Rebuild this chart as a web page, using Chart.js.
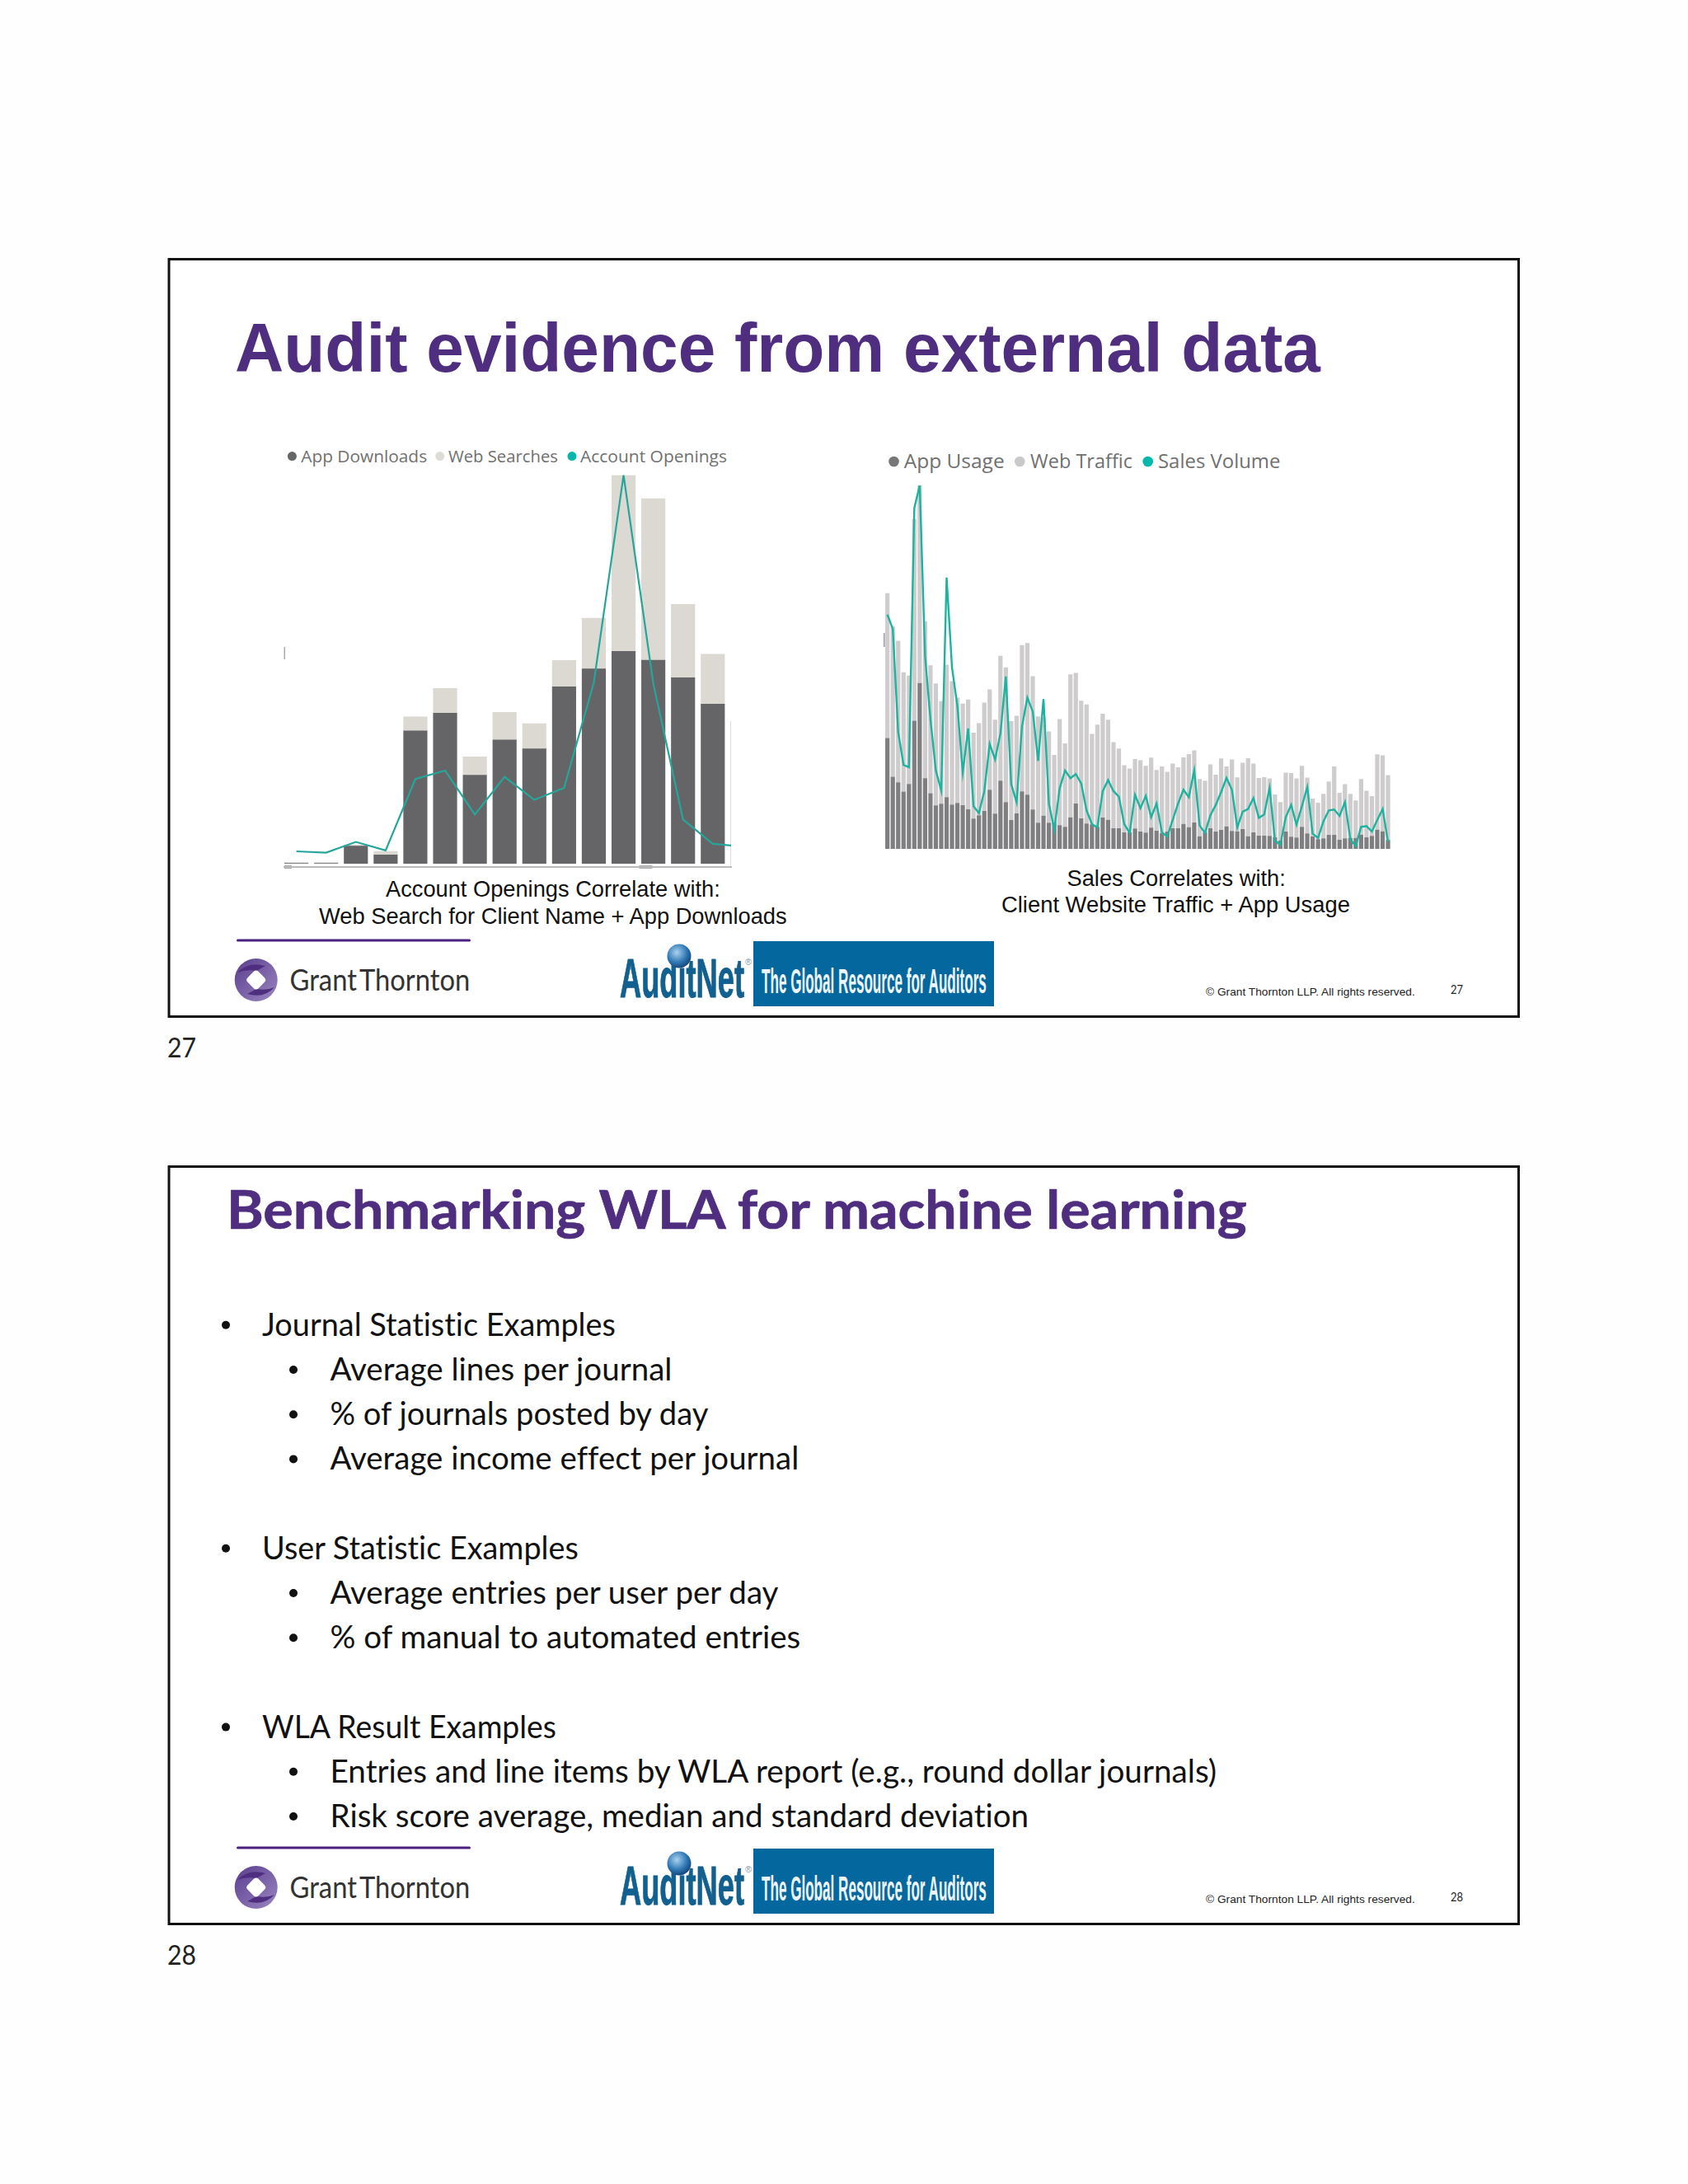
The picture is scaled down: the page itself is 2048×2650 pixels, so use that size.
<!DOCTYPE html>
<html>
<head>
<meta charset="utf-8">
<title>Audit evidence from external data</title>
<script src="https://cdn.jsdelivr.net/npm/chart.js@4/dist/chart.umd.js"></script>
<style>
  html, body { margin: 0; padding: 0; background: #fefefe; }
  #page { position: relative; width: 2048px; height: 2650px; overflow: hidden; }
  #page svg { position: absolute; left: 0; top: 0; }
  #page text { font-variant-ligatures: none; }
  .chartBox { position: absolute; }
</style>
</head>
<body>
<div id="page">
  <svg id="deck" width="2048" height="2650" xmlns="http://www.w3.org/2000/svg">
    <defs>
      <linearGradient id="gtRing" x1="0" y1="0" x2="1" y2="1">
        <stop offset="0" stop-color="#5a3d8f"/>
        <stop offset="1" stop-color="#9b86c0"/>
      </linearGradient>
      <radialGradient id="globe" cx="0.4" cy="0.35" r="0.7">
        <stop offset="0" stop-color="#a9d2ee"/>
        <stop offset="0.6" stop-color="#2f78b5"/>
        <stop offset="1" stop-color="#123f70"/>
      </radialGradient>
    </defs>
  </svg>
  <div class="chartBox" style="left:335px;top:570px;width:560px;height:490px"><canvas id="leftChart"></canvas></div>
  <div class="chartBox" style="left:1060px;top:580px;width:640px;height:460px"><canvas id="rightChart"></canvas></div>
</div>

<script>
// left chart, slide 27
const leftSeriesNames = ["App Downloads", "Web Searches", "Account Openings"];
const appDownloads = [0, 0, 53, 26, 407, 461, 271, 379, 352, 542, 597, 651, 624, 570, 489];
const webSearches = [3, 3, 4, 11, 43, 76, 56, 85, 77, 81, 156, 541, 496, 225, 153];
// one more point than bars, the chart cuts it off on the right
const accountOpenings = [37, 33, 66, 40, 259, 285, 150, 266, 195, 232, 555, 1192, 552, 135, 60, 52];

// right chart, slide 27
const rightSeriesNames = ["App Usage", "Web Traffic", "Sales Volume"];
const appUsage = [403, 262, 242, 208, 236, 466, 603, 257, 202, 158, 164, 188, 161, 167, 159, 144, 110, 122, 138, 215, 128, 248, 170, 105, 129, 209, 197, 143, 95, 121, 95, 95, 86, 80, 115, 165, 111, 92, 89, 80, 114, 106, 75, 75, 60, 60, 74, 63, 59, 77, 66, 57, 63, 75, 75, 91, 79, 96, 46, 60, 75, 63, 69, 82, 65, 64, 72, 46, 60, 48, 48, 47, 42, 30, 63, 44, 41, 80, 56, 45, 35, 38, 51, 51, 33, 38, 40, 40, 52, 42, 47, 70, 64, 32];
const webTraffic = [527, 548, 515, 434, 394, 734, 719, 571, 466, 444, 373, 482, 449, 383, 369, 399, 313, 335, 394, 365, 342, 454, 490, 360, 355, 532, 552, 485, 387, 359, 332, 247, 386, 304, 520, 475, 428, 433, 329, 372, 378, 364, 313, 290, 244, 232, 253, 259, 243, 255, 221, 243, 217, 235, 222, 242, 266, 262, 208, 188, 232, 207, 260, 218, 260, 196, 241, 284, 250, 210, 213, 209, 156, 140, 214, 232, 215, 222, 203, 138, 133, 162, 194, 249, 171, 197, 160, 136, 202, 169, 145, 274, 276, 236];
const salesVolume = [852, 800, 425, 305, 297, 1240, 1322, 700, 470, 285, 212, 987, 660, 520, 278, 438, 155, 130, 210, 382, 325, 420, 627, 235, 170, 445, 550, 500, 320, 545, 165, 70, 220, 285, 257, 272, 238, 140, 90, 78, 210, 250, 210, 190, 90, 58, 197, 148, 193, 115, 165, 60, 45, 105, 165, 215, 188, 286, 85, 58, 122, 160, 207, 258, 215, 78, 135, 145, 185, 113, 125, 222, 30, 15, 115, 160, 88, 155, 225, 55, 40, 100, 140, 143, 120, 170, 35, 10, 80, 83, 63, 105, 145, 25];
const rightCategories = appUsage.map((_, i) => i + 1);

// text of the second slide
const bulletLines = [
  [0, "Journal Statistic Examples", 429],
  [1, "Average lines per journal", 415],
  [1, "% of journals posted by day", 459],
  [1, "Average income effect per journal", 569],
  null,
  [0, "User Statistic Examples", 384],
  [1, "Average entries per user per day", 544],
  [1, "% of manual to automated entries", 571],
  null,
  [0, "WLA Result Examples", 357],
  [1, "Entries and line items by WLA report (e.g., round dollar journals)", 1076],
  [1, "Risk score average, median and standard deviation", 848]
];

const SVG_NS = "http://www.w3.org/2000/svg";
const deck = document.getElementById("deck");

function shape(tag, attrs) {
  const el = document.createElementNS(SVG_NS, tag);
  Object.keys(attrs).forEach(k => el.setAttribute(k, attrs[k]));
  deck.appendChild(el);
  return el;
}

function label(text, x, y, font, size, color, weight, width, extra) {
  const el = shape("text", { x: 0, y: 0, "font-family": font, "font-size": size, fill: color, "font-weight": weight || "normal", ...extra });
  el.textContent = text;
  const sx = width ? width / el.getComputedTextLength() : 1;
  el.setAttribute("transform", `translate(${x} ${y}) scale(${sx} 1)`);
  return el;
}

function legendItem(name, color, dotX, dotY, radius, textX, textY, size, width) {
  shape("circle", { cx: dotX, cy: dotY, r: radius, fill: color });
  label(name, textX, textY, "'Open Sans'", size, "#707070", "normal", width);
}

function drawSlideFrame(dy, num) {
  shape("rect", { x: 205, y: 314.5 + dy, width: 1637.5, height: 919, fill: "#fff", stroke: "#111", "stroke-width": 3 });
  // purple rule + Grant Thornton logo
  shape("rect", { x: 287, y: 1139.5 + dy, width: 284, height: 3, rx: 1.5, fill: "#4a2080" });
  shape("circle", { cx: 310.7, cy: 1189 + dy, r: 26, fill: "url(#gtRing)" });
  shape("path", { d: `M${288} ${1180 + dy} Q${302} ${1166 + dy} ${322} ${1172 + dy} L${311} ${1178 + dy} Q${298} ${1176 + dy} ${288} ${1180 + dy}Z`, fill: "#4f2d7f" });
  shape("path", { d: `M${333} ${1198 + dy} Q${320} ${1212 + dy} ${300} ${1206 + dy} L${311} ${1200 + dy} Q${324} ${1202 + dy} ${333} ${1198 + dy}Z`, fill: "#4f2d7f" });
  shape("rect", { x: 301.5, y: 1179.8 + dy, width: 18.4, height: 18.4, rx: 4, fill: "#fff", transform: `rotate(45 310.7 ${1189 + dy})` });
  label("Grant Thornton", 351.5, 1201.7 + dy, "Lato", 37, "#333", "normal", 219, { "word-spacing": "-5" });
  // AuditNet logo
  label("AuditNet", 752, 1210 + dy, "'Liberation Sans Narrow','Liberation Sans'", 66, "#12608f", "bold", 151, { stroke: "#12608f", "stroke-width": 1 });
  shape("circle", { cx: 824, cy: 1160 + dy, r: 14.5, fill: "url(#globe)" });
  label("®", 904, 1171 + dy, "'Liberation Sans'", 11, "#7f98a8", "normal");
  shape("rect", { x: 914, y: 1142 + dy, width: 292, height: 79, fill: "#04689f" });
  label("The Global Resource for Auditors", 924, 1205 + dy, "'Liberation Sans Narrow','Liberation Sans'", 42, "#eef5f8", "bold", 273);
  // footer
  label("© Grant Thornton LLP. All rights reserved.", 1463, 1208 + dy, "'Liberation Sans'", 13.5, "#222", "normal", 254);
  label(String(num), 1760, 1205.5 + dy, "Lato", 16, "#222", "normal", 15);
  label(String(num), 203, 1282.5 + dy, "Lato", 32, "#222", "normal", 35);
}

function drawDeck() {
  drawSlideFrame(0, 27);
  drawSlideFrame(1101, 28);

  label("Audit evidence from external data", 285, 450.7, "'Liberation Sans'", 82.5, "#4f2d7f", "bold", 1317);
  label("Account Openings Correlate with:", 468, 1088, "'Liberation Sans'", 27, "#111", "normal", 406);
  label("Web Search for Client Name + App Downloads", 387, 1121, "'Liberation Sans'", 27, "#111", "normal", 568);
  label("Sales Correlates with:", 1294.5, 1074.5, "'Liberation Sans'", 27, "#111", "normal", 265.5);
  label("Client Website Traffic + App Usage", 1215, 1107, "'Liberation Sans'", 27, "#111", "normal", 423);

  // legends
  legendItem(leftSeriesNames[0], "#666", 354.4, 553.6, 5.5, 365.2, 560.7, 20.5, 153);
  legendItem(leftSeriesNames[1], "#dedcd6", 533.7, 553.6, 5.5, 544, 560.7, 20.5, 133);
  legendItem(leftSeriesNames[2], "#01b8aa", 694, 553.6, 5.5, 704, 560.7, 20.5, 178);
  legendItem(rightSeriesNames[0], "#777", 1084.5, 560, 6.3, 1096.7, 567.7, 24, 122);
  legendItem(rightSeriesNames[1], "#c9c9c9", 1237.3, 560, 6.3, 1250, 567.7, 24, 124);
  legendItem(rightSeriesNames[2], "#01b8aa", 1392.7, 560, 6.3, 1405, 567.7, 24, 148.5);

  // small leftovers of the cropped screenshots
  shape("rect", { x: 344.5, y: 785, width: 1.5, height: 15, fill: "#aaa" });
  shape("rect", { x: 345, y: 1050, width: 9, height: 4, fill: "#aaa" });
  shape("rect", { x: 775.5, y: 1050, width: 16, height: 4, fill: "#aaa" });
  shape("rect", { x: 886, y: 875, width: 1, height: 176, fill: "#ddd" });
  shape("rect", { x: 1072, y: 768, width: 1.5, height: 17, fill: "#999" });

  label("Benchmarking WLA for machine learning", 275, 1490.7, "Lato", 65, "#4f2d7f", "bold", 1238, { stroke: "#4f2d7f", "stroke-width": 0.7 });

  let y = 1620.8;
  bulletLines.forEach(line => {
    if (line) {
      const level = line[0];
      const textX = level === 0 ? 318 : 400.5;
      const dotX = level === 0 ? 274 : 356;
      shape("circle", { cx: dotX, cy: y - 13, r: 5, fill: "#111" });
      label(line[1], textX, y, "Lato", 38, "#111", "normal", line[2]);
    }
    y += 54.2;
  });
}

function drawLeftChart() {
  const xy = values => values.map((v, i) => ({ x: i, y: v }));
  new Chart(document.getElementById("leftChart"), {
    type: "bar",
    data: {
      datasets: [
        { label: leftSeriesNames[0], data: xy(appDownloads), backgroundColor: "#656466", borderWidth: 0, barThickness: 28.5, order: 1 },
        { label: leftSeriesNames[1], data: xy(webSearches), backgroundColor: "#dcd8d2", borderWidth: 0, barThickness: 28.5, order: 1 },
        { type: "line", label: leftSeriesNames[2], data: xy(accountOpenings), yAxisID: "yLine", borderColor: "#26a69a", backgroundColor: "#01b8aa", borderWidth: 2.2, pointRadius: 0, tension: 0, order: 0 }
      ]
    },
    options: {
      responsive: true,
      maintainAspectRatio: false,
      animation: false,
      layout: { padding: { left: 9.8, right: 8, top: 6.5, bottom: 8.4 } },
      plugins: { legend: { display: false }, tooltip: { enabled: false } },
      scales: {
        x: {
          type: "linear", stacked: true, offset: false, min: -0.41, max: 14.615,
          grid: { display: false }, ticks: { display: false }, border: { color: "#bbbbbb", width: 2 },
          afterFit: scale => { scale.height = 0; }
        },
        y: { stacked: true, min: -10, max: 1192, display: false },
        yLine: { min: -10, max: 1192, display: false }
      }
    }
  });
}

function drawRightChart() {
  new Chart(document.getElementById("rightChart"), {
    type: "bar",
    data: {
      labels: rightCategories,
      datasets: [
        { label: rightSeriesNames[0], data: appUsage, backgroundColor: "#7f7e80", borderWidth: 0, order: 1 },
        { label: rightSeriesNames[1], data: webTraffic, backgroundColor: "#cfcccd", borderWidth: 0, order: 1 },
        { type: "line", label: rightSeriesNames[2], data: salesVolume, yAxisID: "yLine", borderColor: "#1db39f", backgroundColor: "#01b8aa", borderWidth: 2.4, pointRadius: 0, tension: 0, order: 0 }
      ]
    },
    options: {
      responsive: true,
      maintainAspectRatio: false,
      animation: false,
      categoryPercentage: 1,
      barPercentage: 0.8,
      layout: { padding: { left: 13.4, right: 12.7, top: 9, bottom: 10 } },
      plugins: { legend: { display: false }, tooltip: { enabled: false } },
      scales: {
        x: {
          stacked: true, grid: { display: false }, ticks: { display: false }, border: { display: false },
          afterFit: scale => { scale.height = 0; }
        },
        y: { stacked: true, min: 0, max: 1322, display: false },
        yLine: { min: 0, max: 1322, display: false }
      }
    }
  });
}

drawDeck();
drawLeftChart();
drawRightChart();
</script>
</body>
</html>
